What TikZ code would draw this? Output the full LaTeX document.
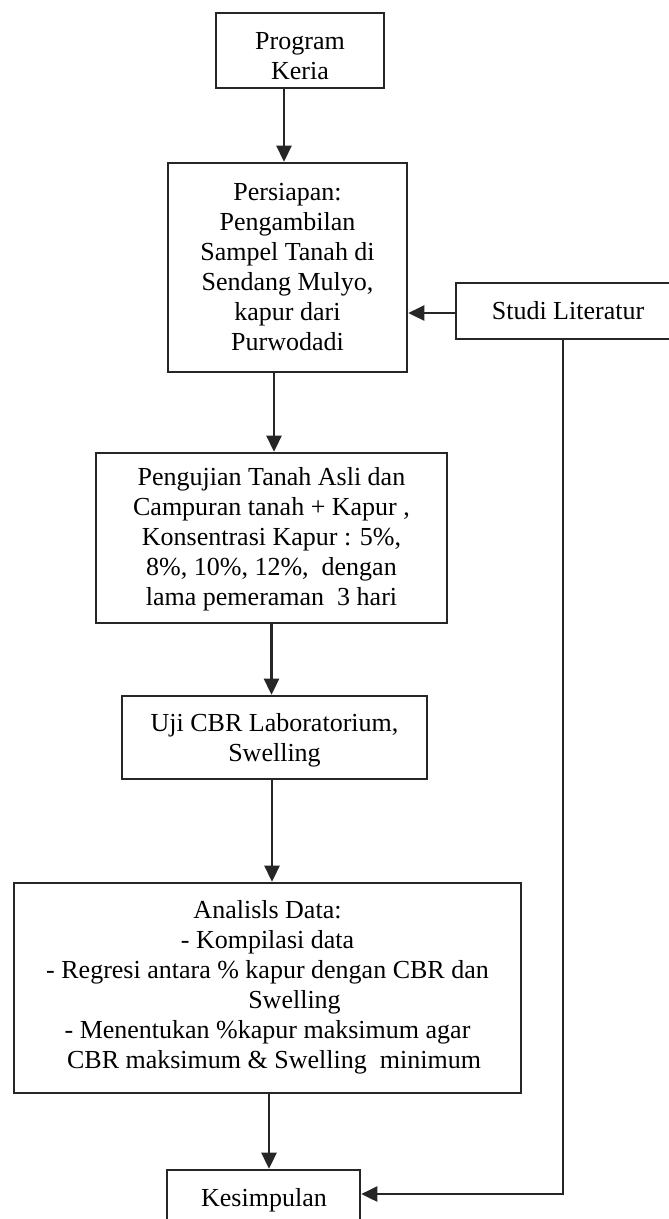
\documentclass[tikz,border=0pt]{standalone}
\usepackage{fontspec}
\setmainfont{Liberation Serif}
\usetikzlibrary{arrows.meta}
\begin{document}
\begin{tikzpicture}[x=1pt,y=-1pt,
  box/.style={draw=black!85, line width=2.6pt, inner sep=0pt},
  txt/.style={align=center, inner sep=0pt, font=\fontsize{26}{30}\selectfont},
  flow/.style={draw=black!85, line width=2.6pt,
    -{Triangle[length=16pt,width=15pt]}}]
\useasboundingbox (0,0) rectangle (669,1219);
\fill[white] (0,0) rectangle (669,1219);

% boxes
\node[box, minimum width=168pt, minimum height=75pt]  (prog)  at (300,50.5)   {};
\node[box, minimum width=239pt, minimum height=209pt] (prep)  at (287.5,267.5) {};
\node[box, minimum width=351pt, minimum height=170pt] (uji)   at (271.5,538)  {};
\node[box, minimum width=305pt, minimum height=83pt]  (cbr)   at (274.5,737.5) {};
\node[box, minimum width=507pt, minimum height=210pt] (anal)  at (267.5,988)  {};
\node[box, minimum width=216pt, minimum height=56pt]  (studi) at (564,311)    {};
\node[box, minimum width=193pt, minimum height=70pt]  (kes)   at (263.5,1205) {};

% texts
\node[txt] (progt)  at (300,56.5)  {Program\\Keria};
\node[txt] (prept)  at (287.5,267) {Persiapan:\\Pengambilan\\Sampel Tanah di\\Sendang Mulyo,\\kapur dari\\Purwodadi};
\node[txt] (ujit)   at (271.5,539) {Pengujian Tanah Asli dan\\Campuran tanah + Kapur ,\\Konsentrasi Kapur : 5\%,\\8\%, 10\%, 12\%,\ \ dengan\\lama pemeraman\ \ 3 hari};
\node[txt] (cbrt)   at (274.5,740) {Uji CBR Laboratorium,\\Swelling};
\node[txt] (analt)  at (267.5,987) {Analisls Data:\\- Kompilasi data\\- Regresi antara \% kapur dengan CBR dan\\\hspace*{54pt}Swelling\\- Menentukan \%kapur maksimum agar\\\ \ CBR maksimum \& Swelling\ \ minimum};
\node[txt] (studit) at (568,311)   {Studi Literatur};
\node[txt] (kest)   at (264,1200)  {Kesimpulan};

% connectors
\draw[flow] ([xshift=-16pt]prog.south) -- ([xshift=-16pt]prog.south |- prep.north);
\draw[flow] ([xshift=-13.5pt]prep.south) -- ([xshift=-13.5pt]prep.south |- uji.north);
\draw[flow] (uji.south) -- (uji.south |- cbr.north);
\draw[flow] ([xshift=-2.5pt]cbr.south) -- ([xshift=-2.5pt]cbr.south |- anal.north);
\draw[flow] ([xshift=1.5pt]anal.south) -- ([xshift=1.5pt]anal.south |- kes.north);
\draw[flow] ([yshift=-2pt]studi.west) -- ([yshift=-2pt]studi.west -| prep.east);
\draw[flow] ([xshift=-1pt]studi.south) |- ([yshift=11pt]kes.east);
\end{tikzpicture}
\end{document}
